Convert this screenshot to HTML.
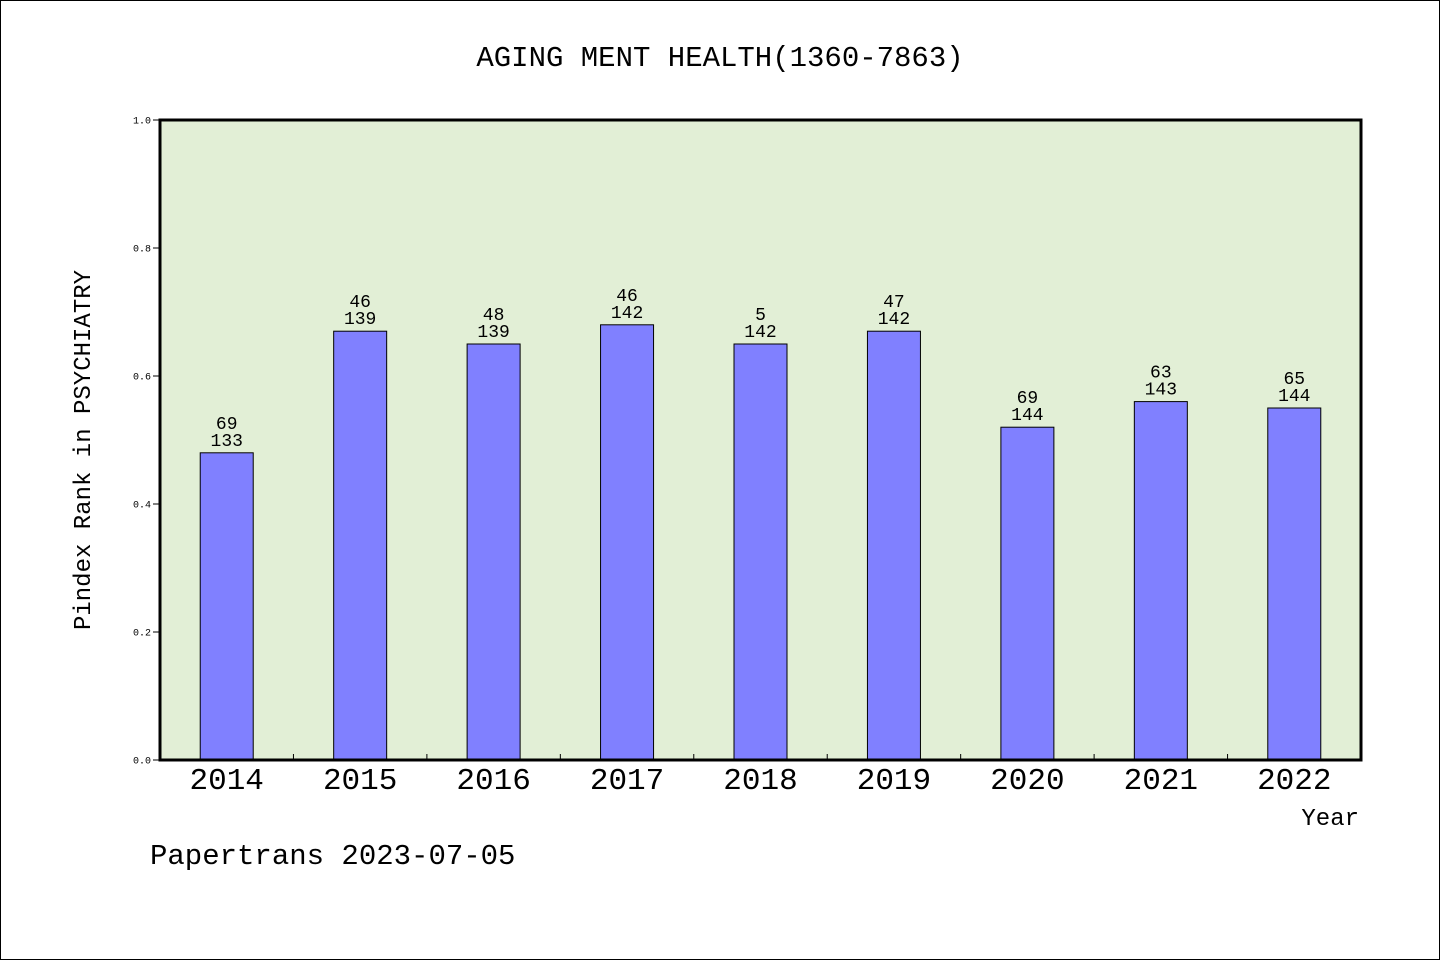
<!DOCTYPE html>
<html><head><meta charset="utf-8"><style>
html,body{margin:0;padding:0;background:#fff}
svg{display:block}
text{font-family:"Liberation Mono","WenQuanYi Zen Hei",monospace;fill:#000}
</style></head><body>
<svg id="chart" width="1440" height="960">
<rect x="0.5" y="0.5" width="1439" height="959" fill="#fff" stroke="#000"/>
<text x="720" y="66" font-size="29" text-anchor="middle">AGING MENT HEALTH(1360-7863)</text>
<rect x="160" y="120" width="1201" height="640" fill="#e2efd6"/>
<g id="bars"></g>
<g id="axes"></g>
<rect x="160" y="120" width="1201" height="640" fill="none" stroke="#000" stroke-width="3"/>
<text x="90" y="450" font-size="24" text-anchor="middle" transform="rotate(-90 90 450)">Pindex Rank in PSYCHIATRY</text>
<text x="1359" y="825" font-size="24" text-anchor="end">Year</text>
<text x="150" y="864" font-size="29">Papertrans 2023-07-05</text>
</svg>
<script>
const categories=["2014","2015","2016","2017","2018","2019","2020","2021","2022"];
const values=[0.48,0.67,0.65,0.68,0.65,0.67,0.52,0.56,0.55];
const ranks=["69","46","48","46","5","47","69","63","65"];
const totals=["133","139","139","142","142","142","144","143","144"];
const yTicks=[0,0.2,0.4,0.6,0.8,1.0];
const yTickLabels=["0.0","0.2","0.4","0.6","0.8","1.0"];
const X0=160,W=1201,Y0=760,H=640;
const bw=W/categories.length;
function xc(i){return X0+bw*(i+0.5);}
function y(v){return Y0-v*H;}
const NS="http://www.w3.org/2000/svg";
const bars=document.getElementById('bars'),axes=document.getElementById('axes');
function mk(tag,attrs,parent,txt){const e=document.createElementNS(NS,tag);for(const k in attrs)e.setAttribute(k,attrs[k]);if(txt!=null)e.textContent=txt;parent.appendChild(e);return e;}
categories.forEach((c,i)=>{
 const r=mk('rect',{x:xc(i)-26.5,y:y(values[i]),width:53,height:Y0-y(values[i]),fill:'#8080ff',stroke:'#000','stroke-width':1},bars);
 
 
 const t1=mk('text',{x:xc(i),y:y(values[i])-24,'font-size':18,'text-anchor':'middle'},bars,ranks[i]);
 
 
 const t2=mk('text',{x:xc(i),y:y(values[i])-7,'font-size':18,'text-anchor':'middle'},bars,totals[i]);
 
 
 const xl=mk('text',{x:xc(i),y:789,'font-size':31,'text-anchor':'middle','font-family':'Liberation Sans, sans-serif'},axes,c);
 
 
 if(i>0){const tk=mk('line',{x1:X0+bw*i,x2:X0+bw*i,y1:Y0,y2:Y0-6,stroke:'#000'},axes);
 
 }
});
yTicks.forEach((v,i)=>{
 const tk=mk('line',{x1:153,x2:160,y1:y(v),y2:y(v),stroke:'#000'},axes);
 
 
 const tl=mk('text',{x:151,y:y(v)+3.5,'font-size':10,'text-anchor':'end','font-family':'Liberation Sans, sans-serif'},axes,yTickLabels[i]);
 
 
});
</script>
</body></html>
